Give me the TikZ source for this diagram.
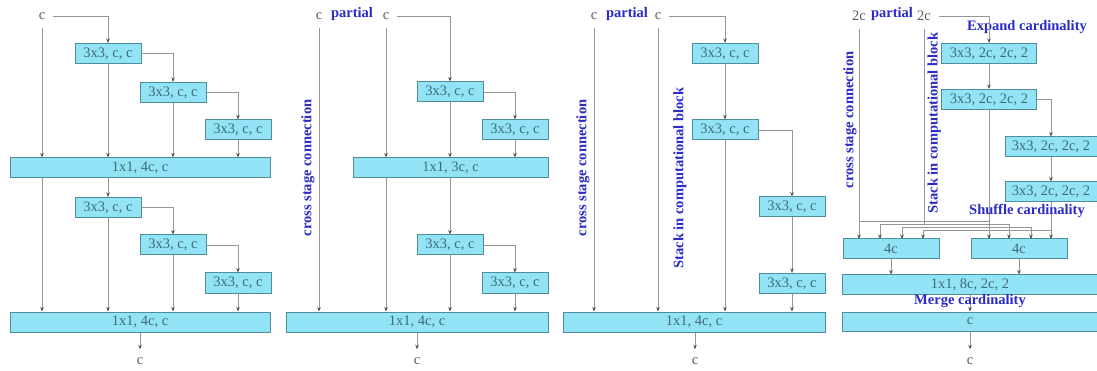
\documentclass[tikz,border=0pt]{standalone}
\usepackage{fontspec}
\setmainfont{Liberation Serif}
\usetikzlibrary{arrows.meta,calc}
\definecolor{boxfill}{HTML}{92E3F6}
\definecolor{boxdraw}{HTML}{4F8C9C}
\definecolor{boxtext}{HTML}{3D6B78}
\definecolor{linec}{HTML}{969696}
\definecolor{labc}{HTML}{2B2BC8}
\definecolor{ctext}{HTML}{5A5A5A}
\begin{document}
\begin{tikzpicture}[x=1pt,y=-1pt,
  box/.style={draw=boxdraw,fill=boxfill,line width=1pt,minimum height=20pt,inner sep=0pt,text=boxtext,font=\fontsize{14.5}{16}\selectfont},
  io/.style={text=ctext,inner sep=8pt,font=\fontsize{14.5}{16}\selectfont},
  lab/.style={text=labc,inner sep=0pt,font=\fontsize{14.5}{16}\selectfont\bfseries},
  arr/.style={draw=linec,line width=0.8pt,-{Stealth[length=4.5pt,width=3.5pt,color=black!70]}},
  ln/.style={draw=linec,line width=0.8pt}]
\useasboundingbox[fill=white] (0,0) rectangle (1097,371);

% ---------------- Panel 1 ----------------
\node[io] (c1) at (42,16) {c};
\node[box,minimum width=66pt] (b11) at (108,53.5) {3x3, c, c};
\node[box,minimum width=66pt] (b12) at (173,92.5) {3x3, c, c};
\node[box,minimum width=66pt] (b13) at (238,130) {3x3, c, c};
\node[box,minimum width=260pt] (m1) at (140,168) {1x1, 4c, c};
\node[box,minimum width=66pt] (b21) at (108,207.5) {3x3, c, c};
\node[box,minimum width=66pt] (b22) at (173,245) {3x3, c, c};
\node[box,minimum width=66pt] (b23) at (238,283) {3x3, c, c};
\node[box,minimum width=260pt] (m2) at (140,322) {1x1, 4c, c};
\node[io] (o1) at (140,361) {c};

\draw[arr] (c1.south) -- (c1.south |- m1.north);
\draw[arr] (c1.east) -| (b11.north);
\draw[arr] (b11.south) -- (b11.south |- m1.north);
\draw[arr] (b11.east) -| (b12.north);
\draw[arr] (b12.south) -- (b12.south |- m1.north);
\draw[arr] (b12.east) -| (b13.north);
\draw[arr] (b13.south) -- (b13.south |- m1.north);
\draw[arr] (c1.south |- m1.south) -- (c1.south |- m2.north);
\draw[arr] (b21.north |- m1.south) -- (b21.north);
\draw[arr] (b21.south) -- (b21.south |- m2.north);
\draw[arr] (b21.east) -| (b22.north);
\draw[arr] (b22.south) -- (b22.south |- m2.north);
\draw[arr] (b22.east) -| (b23.north);
\draw[arr] (b23.south) -- (b23.south |- m2.north);
\draw[arr] (m2.south) -- (o1.north);

% ---------------- Panel 2 ----------------
\node[io] (c2a) at (319,16) {c};
\node[lab] (p2) at (352,14) {partial};
\node[io] (c2b) at (386,16) {c};
\node[box,minimum width=66pt] (b31) at (450,92) {3x3, c, c};
\node[box,minimum width=66pt] (b32) at (515,130) {3x3, c, c};
\node[box,minimum width=195pt] (m3) at (450.5,168) {1x1, 3c, c};
\node[box,minimum width=66pt] (b33) at (450,245) {3x3, c, c};
\node[box,minimum width=66pt] (b34) at (515,283) {3x3, c, c};
\node[box,minimum width=262pt] (m4) at (417,322) {1x1, 4c, c};
\node[io] (o2) at (417,361) {c};
\node[lab,rotate=90] (cs2) at (308,168) {cross stage connection};

\draw[arr] (c2a.south) -- (c2a.south |- m4.north);
\draw[arr] (c2b.south) -- (c2b.south |- m3.north);
\draw[arr] (c2b.east) -| (b31.north);
\draw[arr] (b31.south) -- (b31.south |- m3.north);
\draw[arr] (b31.east) -| (b32.north);
\draw[arr] (b32.south) -- (b32.south |- m3.north);
\draw[arr] (c2b.south |- m3.south) -- (c2b.south |- m4.north);
\draw[arr] (b33.north |- m3.south) -- (b33.north);
\draw[arr] (b33.south) -- (b33.south |- m4.north);
\draw[arr] (b33.east) -| (b34.north);
\draw[arr] (b34.south) -- (b34.south |- m4.north);
\draw[arr] (m4.south) -- (o2.north);

% ---------------- Panel 3 ----------------
\node[io] (c3a) at (594,16) {c};
\node[lab] (p3) at (627,14) {partial};
\node[io] (c3b) at (658,16) {c};
\node[box,minimum width=66pt] (b41) at (725,53.5) {3x3, c, c};
\node[box,minimum width=66pt] (b42) at (725,130) {3x3, c, c};
\node[box,minimum width=66pt] (b43) at (792,207) {3x3, c, c};
\node[box,minimum width=66pt] (b44) at (792,283.5) {3x3, c, c};
\node[box,minimum width=262pt] (m5) at (694,322) {1x1, 4c, c};
\node[io] (o3) at (695,361) {c};
\node[lab,rotate=90] (cs3) at (583,168) {cross stage connection};
\node[lab,rotate=90] (st3) at (680,178) {Stack in computational block};

\draw[arr] (c3a.south) -- (c3a.south |- m5.north);
\draw[arr] (c3b.south) -- (c3b.south |- m5.north);
\draw[arr] (c3b.east) -| (b41.north);
\draw[arr] (b41.south) -- (b42.north);
\draw[arr] (b42.south) -- (b42.south |- m5.north);
\draw[arr] (b42.east) -| (b43.north);
\draw[arr] (b43.south) -- (b44.north);
\draw[arr] (b44.south) -- (b44.south |- m5.north);
\draw[arr] (o3.north |- m5.south) -- (o3.north);

% ---------------- Panel 4 ----------------
\node[io] (c4a) at (859,16) {2c};
\node[lab] (p4) at (892,14) {partial};
\node[io] (c4b) at (924,16) {2c};
\node[lab] (ex) at (1027,27) {Expand cardinality};
\node[box,minimum width=95pt] (b51) at (989,53.5) {3x3, 2c, 2c, 2};
\node[box,minimum width=95pt] (b52) at (989,99.5) {3x3, 2c, 2c, 2};
\node[box,minimum width=92pt] (b53) at (1051,147) {3x3, 2c, 2c, 2};
\node[box,minimum width=92pt] (b54) at (1051,192) {3x3, 2c, 2c, 2};
\node[lab,rotate=90] (cs4) at (850,120) {cross stage connection};
\node[lab,rotate=90] (st4) at (934,123) {Stack in computational block};
\node[box,minimum width=96pt] (g1) at (891,249) {4c};
\node[box,minimum width=96pt] (g2) at (1019,249) {4c};
\node[box,minimum width=256pt,minimum height=19pt] (m6) at (970,284.5) {1x1, 8c, 2c, 2};
\node[box,minimum width=256pt,minimum height=19pt] (m7) at (970,321.5) {c};
\node[io] (o4) at (970,361) {c};

\coordinate (lv1) at (0,221.5);
\coordinate (lv2) at (0,224.5);
\coordinate (lv3) at (0,227.5);
\coordinate (lv4) at (0,230.5);
\coordinate (L1) at (859,239);
\coordinate (L2) at (880,239);
\coordinate (L3) at (902,239);
\coordinate (L4) at (923,239);
\coordinate (R1) at (989,239);
\coordinate (R2) at (1009,239);
\coordinate (R3) at (1031,239);
\coordinate (R4) at (1051,239);

\draw[arr] (c4b.east) -| (b51.north);
\draw[arr] (b51.south) -- (b52.north);
\draw[arr] (b52.east) -| (b53.north);
\draw[arr] (b53.south) -- (b54.north);

% shuffle
\draw[arr] (c4a.south) -- (L1);
\draw[arr] (c4a.south |- lv1) -| (R1);
\draw[ln] (c4b.south) -- (c4b.south |- lv2);
\draw[arr] (c4b.south |- lv2) -| (L2);
\draw[arr] (c4b.south |- lv2) -| (R2);
\draw[ln] (b52.south) -- (b52.south |- lv3);
\draw[arr] (b52.south |- lv3) -| (L3);
\draw[arr] (b52.south |- lv3) -| (R3);
\draw[ln] (b54.south) -- (b54.south |- lv4);
\draw[arr] (b54.south |- lv4) -| (L4);
\draw[arr] (b54.south |- lv4) -- (R4);

\node[lab] (sh) at (1027,211) {Shuffle cardinality};

\draw[arr] (g1.south) -- (g1.south |- m6.north);
\draw[arr] (g2.south) -- (g2.south |- m6.north);
\draw[arr] (m6.south) -- (m7.north);
\node[lab] (mg) at (970,301) {Merge cardinality};
\draw[arr] (m7.south) -- (o4.north);
\end{tikzpicture}
\end{document}
